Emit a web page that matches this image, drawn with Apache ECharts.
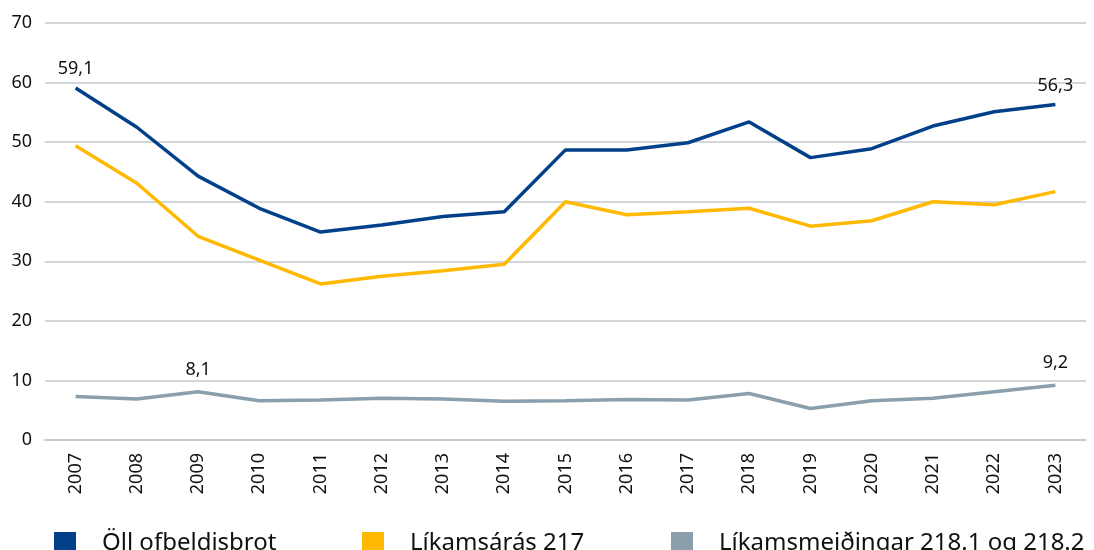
<!DOCTYPE html>
<html>
<head>
<meta charset="utf-8">
<script src="https://cdn.jsdelivr.net/npm/echarts@6/dist/echarts.min.js"></script>
<style>
  html, body { margin: 0; padding: 0; background: #fff; }
  #chart { width: 1094px; height: 550px; }
</style>
</head>
<body>
<div id="chart"></div>
<script>
const years = ['2007', '2008', '2009', '2010', '2011', '2012', '2013', '2014', '2015',
  '2016', '2017', '2018', '2019', '2020', '2021', '2022', '2023']

const allViolence = [59.1, 52.5, 44.3, 38.9, 34.9, 36.1, 37.5, 38.3, 48.7,
  48.7, 49.9, 53.4, 47.4, 48.9, 52.7, 55.1, 56.3]
const assault217 = [49.4, 43.1, 34.2, 30.2, 26.2, 27.5, 28.4, 29.5, 40.0,
  37.8, 38.3, 38.9, 35.9, 36.8, 40.0, 39.5, 41.7]
const injuries218 = [7.3, 6.9, 8.1, 6.6, 6.7, 7.0, 6.9, 6.5, 6.6,
  6.8, 6.7, 7.8, 5.3, 6.6, 7.0, 8.1, 9.2]

const seriesNames = ['Öll ofbeldisbrot', 'Líkamsárás 217', 'Líkamsmeiðingar 218.1 og 218.2']
const colors = ['#024189', '#FFB900', '#8B9EAB']
// which points carry a value label, and how far above the line it sits
const labelled = [[0, 16], [], [2, 16]]
const labelGap = [10, 10, 13]

const FONT = '"Noto Sans", sans-serif'

const chart = echarts.init(document.getElementById('chart'))

const makeSeries = (name, data, i) => ({
  name,
  type: 'line',
  data: data.map((v, j) => labelled[i].includes(j)
    ? { value: v, label: { show: true } }
    : v),
  symbol: 'circle',
  symbolSize: 0,
  showSymbol: true,
  lineStyle: { width: 3.5, color: colors[i] },
  itemStyle: { color: colors[i] },
  label: {
    show: false,
    position: 'top',
    distance: labelGap[i],
    fontFamily: FONT,
    fontSize: 18,
    color: '#111',
    formatter: p => String(p.value).replace('.', ',')
  },
  z: 3 - i
})

const legendAt = (name, left) => ({
  data: [name],
  left,
  top: 526,
  itemWidth: 22,
  itemHeight: 22,
  icon: 'rect',
  textStyle: { fontFamily: FONT, fontSize: 24, color: '#111', padding: [0, 0, 4, 21] }
})

chart.setOption({
  animation: false,
  grid: { left: 45, right: 8, top: 23, bottom: 110 },
  legend: [
    legendAt(seriesNames[0], 49),
    legendAt(seriesNames[1], 357),
    legendAt(seriesNames[2], 666)
  ],
  xAxis: {
    type: 'category',
    data: years,
    boundaryGap: true,
    axisLine: { lineStyle: { color: '#C5C9CE', width: 1.5 } },
    axisTick: { show: false },
    axisLabel: { rotate: 90, margin: 13, fontFamily: FONT, fontSize: 18, color: '#111' }
  },
  yAxis: {
    type: 'value',
    min: 0,
    max: 70,
    interval: 10,
    axisLine: { show: false },
    axisTick: { show: false },
    splitLine: { lineStyle: { color: '#C5C9CE', width: 1.5 } },
    axisLabel: { margin: 13, fontFamily: FONT, fontSize: 18, color: '#111' }
  },
  series: [
    makeSeries(seriesNames[0], allViolence, 0),
    makeSeries(seriesNames[1], assault217, 1),
    makeSeries(seriesNames[2], injuries218, 2)
  ]
})
</script>
</body>
</html>
